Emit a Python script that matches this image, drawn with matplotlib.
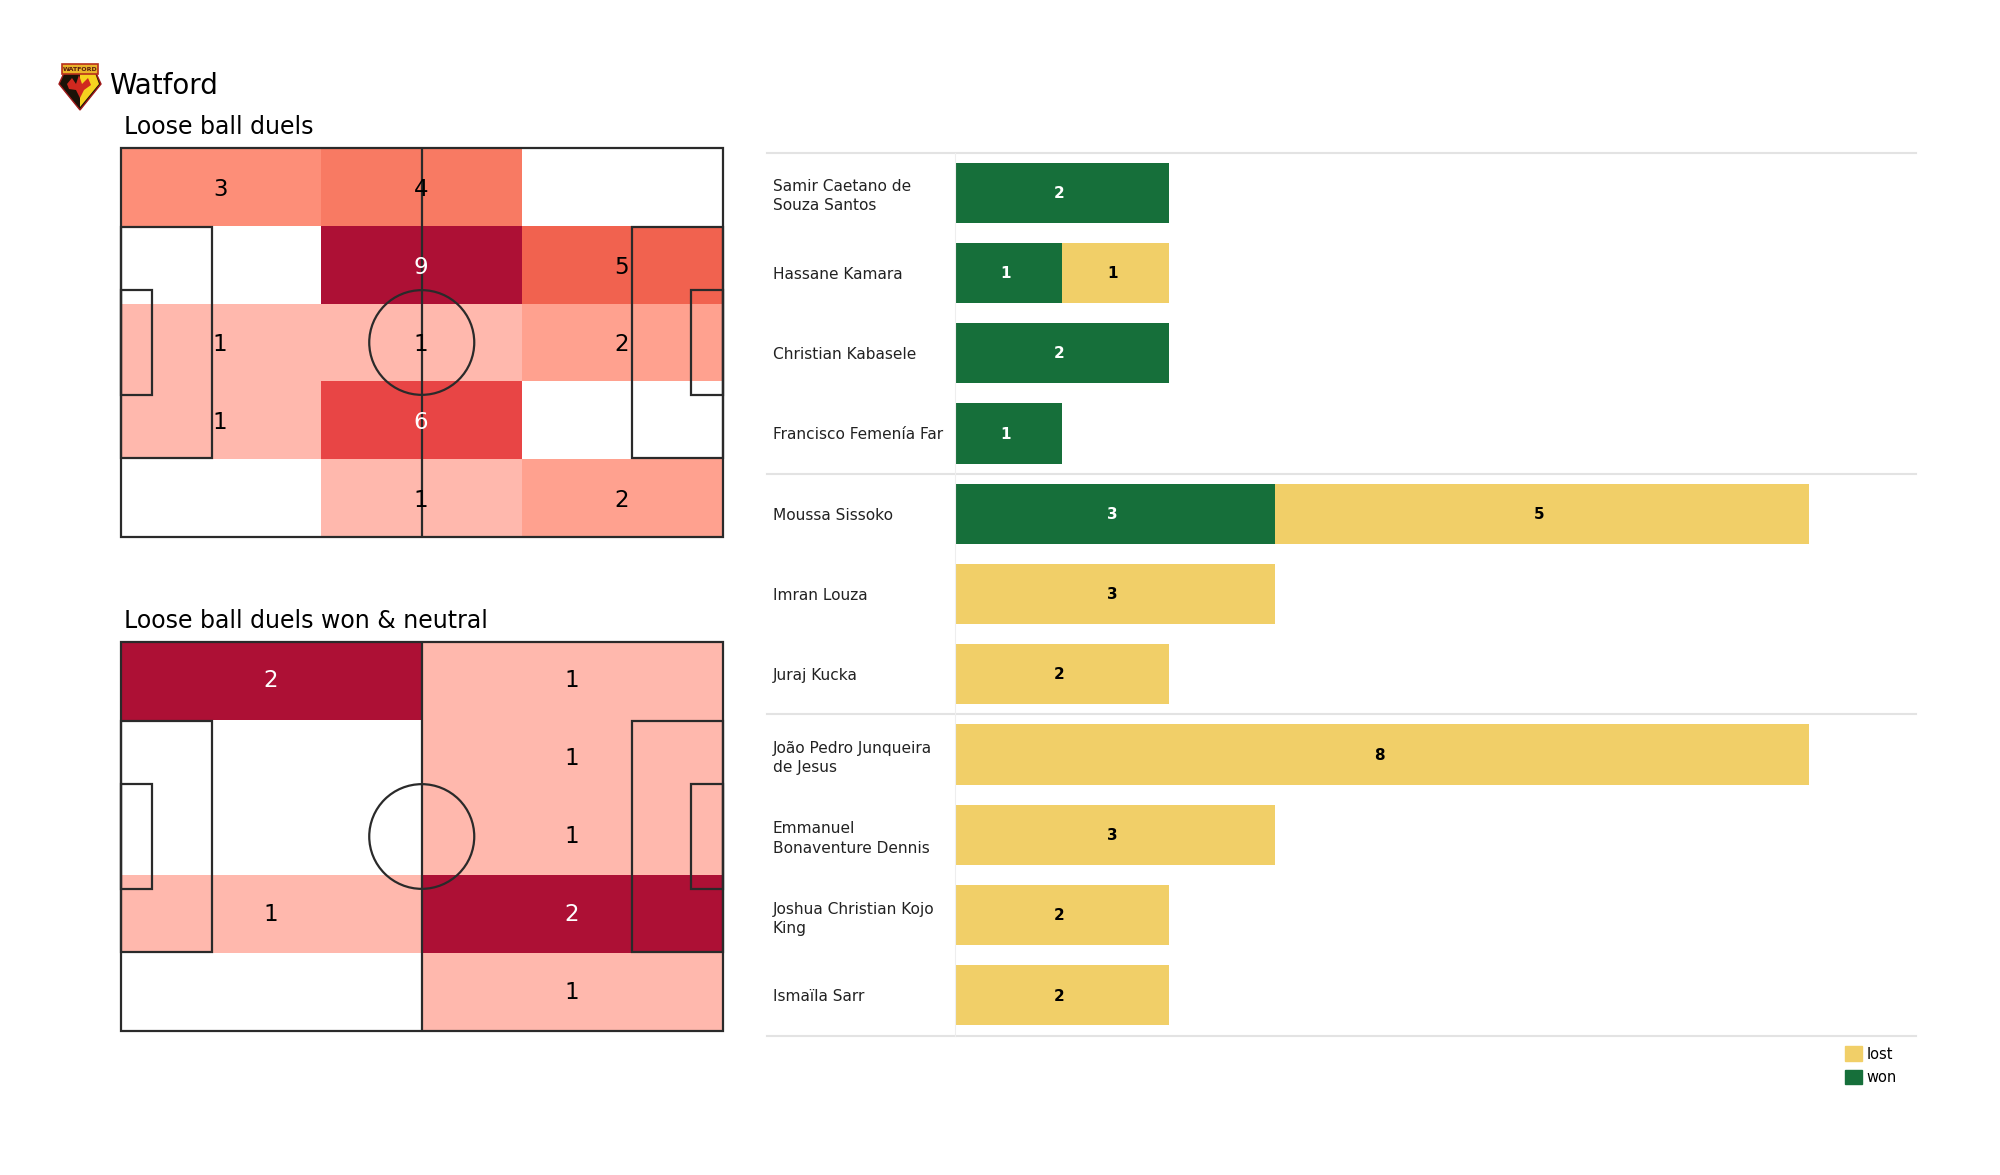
import matplotlib
matplotlib.use('Agg')
import numpy as np
import matplotlib.pyplot as plt
from matplotlib.colors import LinearSegmentedColormap
from matplotlib.patches import Circle, Patch, Polygon, Rectangle

W, H = 2000, 1175

# heatmap counts, top row first
duels = [[3, 4, 0],
         [0, 9, 5],
         [1, 1, 2],
         [1, 6, 0],
         [0, 1, 2]]
duels_won = [[2, 1],
             [0, 1],
             [0, 1],
             [1, 2],
             [0, 1]]

players = ['Samir Caetano de\nSouza Santos', 'Hassane Kamara', 'Christian Kabasele',
           'Francisco Femenía Far', 'Moussa Sissoko', 'Imran Louza', 'Juraj Kucka',
           'João Pedro Junqueira\nde Jesus', 'Emmanuel\nBonaventure Dennis',
           'Joshua Christian Kojo\nKing', 'Ismaïla Sarr']
won = [2, 1, 2, 1, 3, 0, 0, 0, 0, 0, 0]
lost = [0, 1, 0, 0, 5, 3, 2, 8, 3, 2, 2]
group_ends = [3.5, 6.5]

GREEN = '#166f3a'
YELLOW = '#f1cf68'
GRID = '#e3e3e3'
LINE = '#2a2a2a'

cmap = LinearSegmentedColormap.from_list('duels', [
    (0.0, '#ffb8ad'), (0.125, '#ffa18f'), (0.25, '#fd8e78'), (0.375, '#f87a63'),
    (0.5, '#f1624f'), (0.625, '#e84545'), (1.0, '#ad1035')])


def px_axes(fig, left, top, right, bottom):
    # axes from pixel box, y measured from the top of the image
    return fig.add_axes([left / W, 1 - bottom / H, (right - left) / W, (bottom - top) / H])


def draw_pitch(ax):
    lc = dict(ec=LINE, fc='none', lw=1.6, zorder=3, clip_on=False)
    ax.add_patch(Rectangle((0, 0), 105, 68, **lc))
    ax.plot([52.5, 52.5], [0, 68], color=LINE, lw=1.6, zorder=3)
    ax.add_patch(Circle((52.5, 34), 9.15, **lc))
    for x, d in [(0, 1), (105, -1)]:
        ax.add_patch(Rectangle((x, 13.84), d * 15.9, 40.32, **lc))
        ax.add_patch(Rectangle((x, 24.84), d * 5.5, 18.32, **lc))


def heatmap(ax, counts, text_shift=0):
    counts = np.array(counts)
    nrow, ncol = counts.shape
    xedges = np.linspace(0, 105, ncol + 1)
    yedges = np.linspace(68, 0, nrow + 1)
    vmax = counts.max()
    ax.pcolormesh(xedges, yedges, np.ma.masked_equal(counts, 0), cmap=cmap, vmin=1, vmax=vmax, zorder=1)
    draw_pitch(ax)
    for r in range(nrow):
        for c in range(ncol):
            v = counts[r, c]
            if v == 0:
                continue
            col = 'white' if (v - 1) / (vmax - 1) > 0.5 else 'black'
            ax.annotate(str(v), ((xedges[c] + xedges[c + 1]) / 2, (yedges[r] + yedges[r + 1]) / 2),
                        xytext=(-0.5, text_shift), textcoords='offset points',
                        ha='center', va='center', fontsize=16.5, color=col, zorder=4)
    ax.set_xlim(0, 105)
    ax.set_ylim(0, 68)
    ax.axis('off')


fig = plt.figure(figsize=(W / 100, H / 100), dpi=100)

# left column
ax1 = px_axes(fig, 120.5, 148, 723, 537)
heatmap(ax1, duels, text_shift=-1.7)
ax2 = px_axes(fig, 120.5, 642, 723, 1031)
heatmap(ax2, duels_won)

fig.text(109 / W, 1 - 85.5 / H, 'Watford', fontsize=20, va='center', ha='left')
fig.text(123.5 / W, 1 - 127 / H, 'Loose ball duels', fontsize=17, va='center', ha='left')
fig.text(123.5 / W, 1 - 621 / H, 'Loose ball duels won & neutral', fontsize=17, va='center', ha='left')

# right column, stacked bars
ax = px_axes(fig, 955, 152.5, 1916, 1035.5)
y = np.arange(len(players))
bars_won = ax.barh(y, won, height=0.75, color=GREEN, zorder=2)
bars_lost = ax.barh(y, lost, left=won, height=0.75, color=YELLOW, zorder=2)
for bars, vals, col in [(bars_won, won, 'white'), (bars_lost, lost, 'black')]:
    for b, v in zip(bars, vals):
        if v > 0:
            ax.annotate(str(v), (b.get_x() + b.get_width() / 2, b.get_y() + b.get_height() / 2),
                        xytext=(-2.2, -0.5), textcoords='offset points', ha='center', va='center',
                        fontsize=11, fontweight='bold', color=col, zorder=3)
ax.set_xlim(0, 9)
ax.set_ylim(len(players) - 0.5, -0.5)
ax.set_xticks([])
ax.set_yticks(y)
ax.set_yticklabels(players, fontsize=11.1, ha='left', va='center_baseline', color='#222222', linespacing=1.35)
ax.tick_params(axis='y', length=0, pad=(955 - 773) * 0.72)
for s in ['top', 'right', 'bottom']:
    ax.spines[s].set_visible(False)
ax.spines['left'].set_color('#eeeeee')

# row separators run past the axes on the left, under the names
sep = dict(color=GRID, lw=1.5, clip_on=False, zorder=1)
for yy in [-0.5] + group_ends + [len(players) - 0.5]:
    ax.plot([-188 / 106.8, 9], [yy, yy], **sep)

handles = [Patch(color=YELLOW, label='lost'), Patch(color=GREEN, label='won')]
ax.legend(handles=handles, frameon=False, fontsize=10.5, loc='upper left', ncol=1,
          bbox_to_anchor=(1841 / W, 1 - 1042 / H), bbox_transform=fig.transFigure,
          handlelength=1.15, handleheight=1.15, handletextpad=0.3, labelspacing=0.55,
          borderpad=0.3, borderaxespad=0)

# club badge, drawn in its own pixel box
logo = px_axes(fig, 56, 60, 104, 112)
logo.set_xlim(56, 104)
logo.set_ylim(112, 60)
logo.axis('off')
logo.add_patch(Polygon([(59, 84), (64, 73), (96, 73), (101, 84), (80, 110)], fc='#1a1208', ec='#a01a1a', lw=1))
logo.add_patch(Polygon([(80, 73), (95, 73), (99, 84), (80, 107)], fc='#f6d21f', ec='none'))
logo.add_patch(Polygon([(67, 84), (72, 78), (76, 84), (79, 75), (82, 84), (88, 78), (91, 85),
                        (84, 90), (80, 98), (76, 90), (69, 89)], fc='#d0281f', ec='none'))
logo.add_patch(Rectangle((62, 64), 36, 10, fc='#e9b32a', ec='#b8301c', lw=1.2))
logo.text(80, 69.2, 'WATFORD', fontsize=4.5, fontweight='bold', ha='center', va='center', color='#5a1a10')

fig.savefig('out.png', dpi=100)
